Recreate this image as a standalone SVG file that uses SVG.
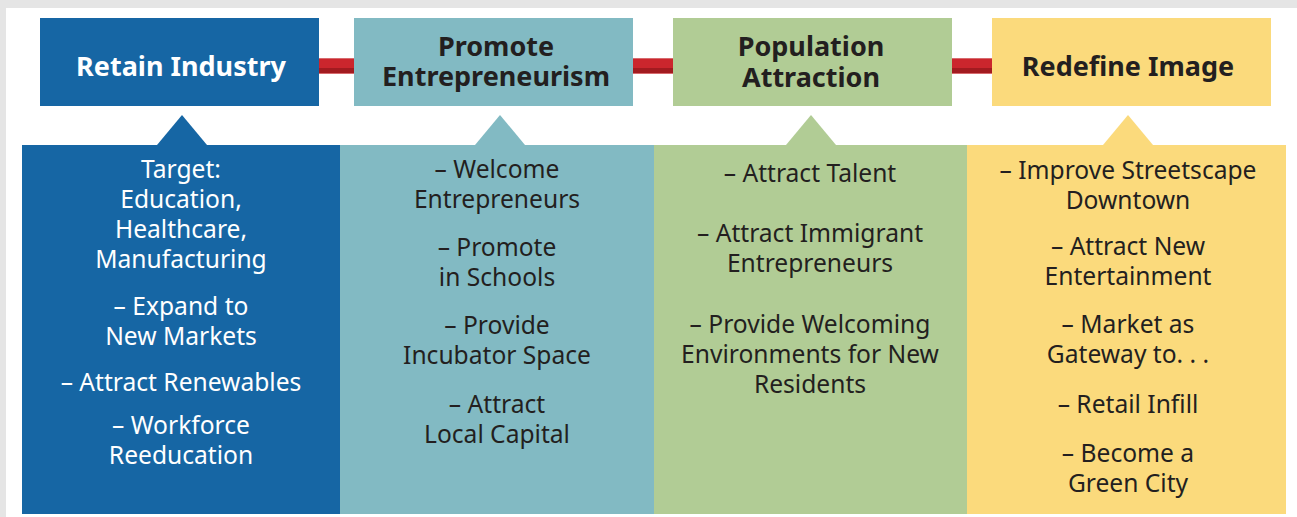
<svg xmlns="http://www.w3.org/2000/svg" width="1297" height="517" viewBox="0 0 1297 517">
<style>
.hd{font-family:"Noto Sans","Open Sans",sans-serif;font-weight:700;font-size:27px;text-anchor:middle}
.bd{font-family:"Noto Sans","Open Sans",sans-serif;font-size:24.6px;text-anchor:middle;fill:#231f20}
.w{fill:#ffffff}
.blue{fill:#1666a4}
.teal{fill:#82bac3}
.green{fill:#b1cc95}
.yellow{fill:#fbda7c}
.dk{fill:#231f20}
</style>
<rect x="0" y="0" width="1297" height="517" fill="#e5e5e5"/>
<rect x="6" y="8" width="1291" height="509" fill="#ffffff"/>
<g id="connectors">
<g id="c1">
<rect x="318" y="58" width="37" height="16" fill="#d76a6e"/>
<rect x="318" y="59" width="37" height="9" fill="#cb262d"/>
<rect x="318" y="68" width="37" height="5" fill="#a21b20"/>
</g>
<g id="c2">
<rect x="632" y="58" width="42" height="16" fill="#d76a6e"/>
<rect x="632" y="59" width="42" height="9" fill="#cb262d"/>
<rect x="632" y="68" width="42" height="5" fill="#a21b20"/>
</g>
<g id="c3">
<rect x="951" y="58" width="42" height="16" fill="#d76a6e"/>
<rect x="951" y="59" width="42" height="9" fill="#cb262d"/>
<rect x="951" y="68" width="42" height="5" fill="#a21b20"/>
</g>
</g>
<g id="retain-industry">
<rect class="blue" x="40" y="18" width="279" height="88"/>
<text class="hd w" x="181" y="76">Retain Industry</text>
<polygon class="blue" points="157,145 182,115 207,145"/>
<rect class="blue" x="22" y="145" width="318" height="369"/>
<text class="bd w" x="181" y="178">Target:</text>
<text class="bd w" x="181" y="208">Education,</text>
<text class="bd w" x="181" y="238">Healthcare,</text>
<text class="bd w" x="181" y="268">Manufacturing</text>
<text class="bd w" x="181" y="315">– Expand to</text>
<text class="bd w" x="181" y="345">New Markets</text>
<text class="bd w" x="181" y="391">– Attract Renewables</text>
<text class="bd w" x="181" y="434">– Workforce</text>
<text class="bd w" x="181" y="464">Reeducation</text>
</g>
<g id="promote-entrepreneurism">
<rect class="teal" x="354" y="18" width="279" height="88"/>
<text class="hd dk" x="496" y="56">Promote</text>
<text class="hd dk" x="496" y="86">Entrepreneurism</text>
<polygon class="teal" points="475,145 500,115 525,145"/>
<rect class="teal" x="340" y="145" width="314" height="369"/>
<text class="bd" x="497" y="178">– Welcome</text>
<text class="bd" x="497" y="208">Entrepreneurs</text>
<text class="bd" x="497" y="256">– Promote</text>
<text class="bd" x="497" y="286">in Schools</text>
<text class="bd" x="497" y="334">– Provide</text>
<text class="bd" x="497" y="364">Incubator Space</text>
<text class="bd" x="497" y="413">– Attract</text>
<text class="bd" x="497" y="443">Local Capital</text>
</g>
<g id="population-attraction">
<rect class="green" x="673" y="18" width="279" height="88"/>
<text class="hd dk" x="811" y="56">Population</text>
<text class="hd dk" x="811" y="87">Attraction</text>
<polygon class="green" points="786,145 811,115 836,145"/>
<rect class="green" x="654" y="145" width="313" height="369"/>
<text class="bd" x="810" y="182">– Attract Talent</text>
<text class="bd" x="810" y="242">– Attract Immigrant</text>
<text class="bd" x="810" y="272">Entrepreneurs</text>
<text class="bd" x="810" y="333">– Provide Welcoming</text>
<text class="bd" x="810" y="363">Environments for New</text>
<text class="bd" x="810" y="393">Residents</text>
</g>
<g id="redefine-image">
<rect class="yellow" x="992" y="18" width="279" height="88"/>
<text class="hd dk" x="1128" y="76">Redefine Image</text>
<polygon class="yellow" points="1103,145 1128,115 1153,145"/>
<rect class="yellow" x="967" y="145" width="319" height="369"/>
<text class="bd" x="1128" y="179">– Improve Streetscape</text>
<text class="bd" x="1128" y="209">Downtown</text>
<text class="bd" x="1128" y="255">– Attract New</text>
<text class="bd" x="1128" y="285">Entertainment</text>
<text class="bd" x="1128" y="333">– Market as</text>
<text class="bd" x="1128" y="363">Gateway to. . .</text>
<text class="bd" x="1128" y="413">– Retail Infill</text>
<text class="bd" x="1128" y="462">– Become a</text>
<text class="bd" x="1128" y="492">Green City</text>
</g>
</svg>
